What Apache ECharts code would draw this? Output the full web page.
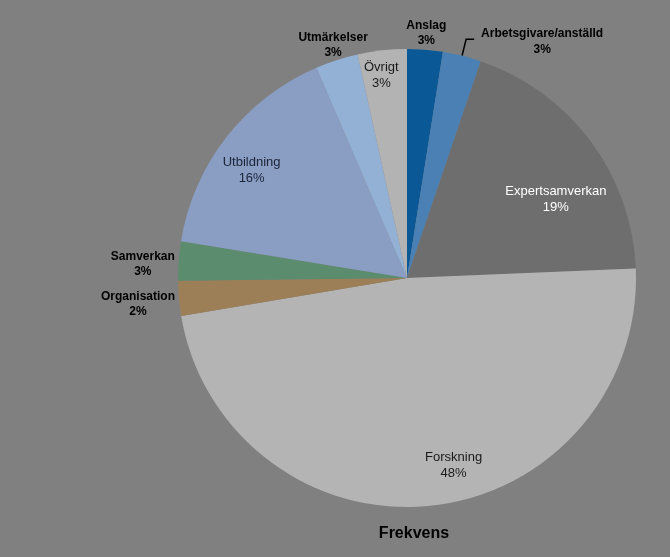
<!DOCTYPE html>
<html><head><meta charset="utf-8">
<script src="https://cdn.jsdelivr.net/npm/echarts@6/dist/echarts.min.js"></script>
<style>html,body{margin:0;padding:0;background:#808080}#c{width:670px;height:557px}</style>
</head><body><div id="c"></div>
<script>
var categories = ['Anslag','Arbetsgivare/anställd','Expertsamverkan','Forskning','Organisation','Samverkan','Utbildning','Utmärkelser','Övrigt'];
var values = [2.5, 2.7, 19.05, 47.85, 2.45, 2.75, 15.9, 3.0, 3.45];
var colors = ['#0B5897','#4A80B4','#6E6E6E','#B4B4B4','#9C7F56','#5B8C6D','#8A9DC3','#93B1D5','#B3B3B3'];
var titleText = 'Frekvens';

var CX = 407, CY = 278, R = 229;
var FONT = '"Liberation Sans", Arial, sans-serif';
// label placement: k = radial fraction of radius, da = angular offset (deg)
var labelPlace = [
  {k:1.074, da:0, out:true},
  null,
  {k:0.735, da:9, color:'#ffffff'},
  {k:0.843, da:-8, color:'#1a1a1a'},
  {k:1.18, da:-0.4, out:true},
  {k:1.155, da:-1.4, out:true},
  {k:0.825, da:-3.3, color:'#1b2438'},
  {k:1.068, da:0.3, out:true},
  {k:0.89, da:-1, color:'#1a1a1a'}
];

var data = categories.map(function(name, i){
  var s = labelPlace[i];
  var item = { name: name, value: values[i], itemStyle: { color: colors[i] } };
  if (s) {
    item.label = s.out ? {
      position: 'inside', color: '#000', fontWeight: 'bold', fontSize: 12, lineHeight: 15
    } : {
      position: 'inside', color: s.color, fontWeight: 'normal', fontSize: 13, lineHeight: 16
    };
    item.labelLine = { show: false };
  } else {
    item.label = {
      position: 'outside', distanceToLabelLine: 3,
      formatter: function(p){ return '{b|' + p.name + '}\n{b|' + Math.round(p.percent) + '%}'; },
      rich: { b: { width: 130, align: 'center', fontWeight: 'bold', fontSize: 12, lineHeight: 16, color: '#000', fontFamily: FONT } }
    };
    item.labelLine = { show: true, length: 17, length2: 8, lineStyle: { color: '#000', width: 1.5 } };
  }
  return item;
});

var chart = echarts.init(document.getElementById('c'), null, { renderer: 'canvas' });
chart.setOption({
  backgroundColor: '#808080',
  animation: false,
  title: {
    text: titleText, left: 409, top: 521, textAlign: 'center',
    textStyle: { fontFamily: FONT, fontWeight: 'bold', fontSize: 16, color: '#000' }
  },
  series: [{
    type: 'pie',
    center: [CX, CY],
    radius: R,
    startAngle: 90,
    clockwise: true,
    avoidLabelOverlap: false,
    silent: true,
    label: {
      fontFamily: FONT, textBorderWidth: 0,
      formatter: function(p){ return p.name + '\n' + Math.round(p.percent) + '%'; }
    },
    labelLayout: function(p){
      var s = labelPlace[p.dataIndex];
      if (!s) return { dy: 2 };
      var r = p.labelRect, lx = r.x + r.width/2, ly = r.y + r.height/2;
      var a = Math.atan2(lx - CX, CY - ly) + s.da * Math.PI / 180;
      var d = s.k * R;
      return { x: CX + d * Math.sin(a), y: CY - d * Math.cos(a) };
    },
    data: data
  }]
});
</script></body></html>
